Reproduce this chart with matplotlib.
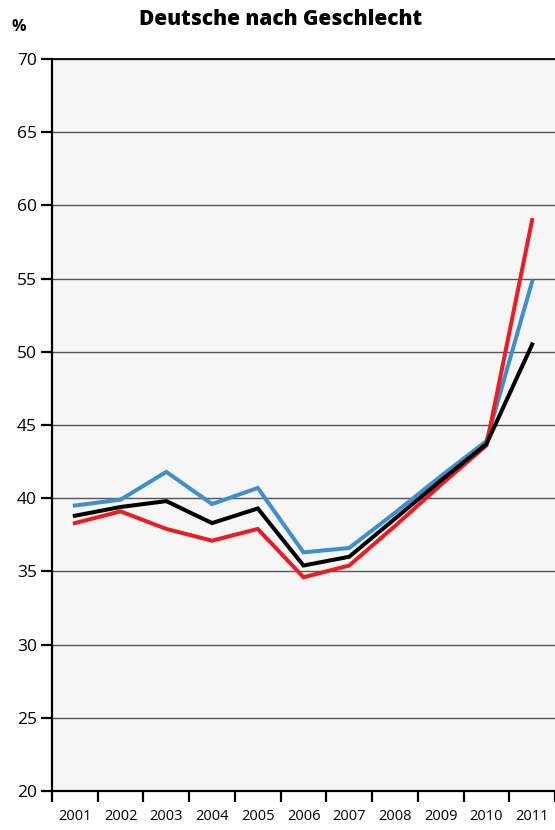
import matplotlib
matplotlib.use("Agg")
import matplotlib.pyplot as plt
import numpy as np

years = ["2001", "2002", "2003", "2004", "2005", "2006", "2007", "2008", "2009", "2010", "2011"]
blue_vals = [39.5, 39.9, 41.8, 39.6, 40.7, 36.3, 36.6, 39.0, 41.5, 43.9, 54.8]
black_vals = [38.8, 39.4, 39.8, 38.3, 39.3, 35.4, 36.0, 38.6, 41.2, 43.7, 50.5]
red_vals = [38.3, 39.1, 37.9, 37.1, 37.9, 34.6, 35.4, 38.1, 40.9, 43.6, 59.0]
y_ticks = [20, 25, 30, 35, 40, 45, 50, 55, 60, 65, 70]

plt.rcParams["font.family"] = ["Open Sans", "DejaVu Sans"]

fig = plt.figure(figsize=(5.55, 8.3), dpi=100)
ax = fig.add_axes([0.0937, 0.047, 0.9063, 0.8819])
ax.set_facecolor("#f6f6f6")

x = np.arange(len(years)) + 0.5
ax.plot(x, blue_vals, color="#3f8fcf", lw=2.9, solid_joinstyle="miter", zorder=3)
ax.plot(x, red_vals, color="#ec1c24", lw=2.9, solid_joinstyle="miter", zorder=4)
ax.plot(x, black_vals, color="black", lw=2.9, solid_joinstyle="miter", zorder=5)

ax.set_ylim(20, 70)
ax.set_xlim(0, 10.93)
ax.set_yticks(y_ticks)
ax.set_yticklabels([str(v) for v in y_ticks], fontsize=12.5, fontweight="medium")
ax.set_xticks(np.arange(len(years) + 1))
ax.set_xticklabels([])
ax.set_xticks(x, minor=True)
ax.set_xticklabels(years, minor=True, fontsize=10.5, fontweight="medium")
ax.tick_params(axis="x", which="minor", length=0, pad=13)
ax.tick_params(axis="x", which="major", length=8, width=1.6, direction="out")
ax.tick_params(axis="y", length=8, width=1.6, direction="out", pad=3)

ax.grid(axis="y", color="#555555", lw=1.0, zorder=1)
ax.set_axisbelow(True)
ax.spines["right"].set_visible(False)
ax.spines["top"].set_linewidth(1.3)
ax.spines["left"].set_linewidth(1.6)
ax.spines["bottom"].set_linewidth(1.6)

fig.text(0.505, 0.976, "Deutsche nach Geschlecht", ha="center", va="center",
         fontsize=15, fontweight="heavy")
fig.text(0.033, 0.967, "%", ha="center", va="center", fontsize=11.5, fontweight="bold")

fig.savefig("out.png", dpi=100)
